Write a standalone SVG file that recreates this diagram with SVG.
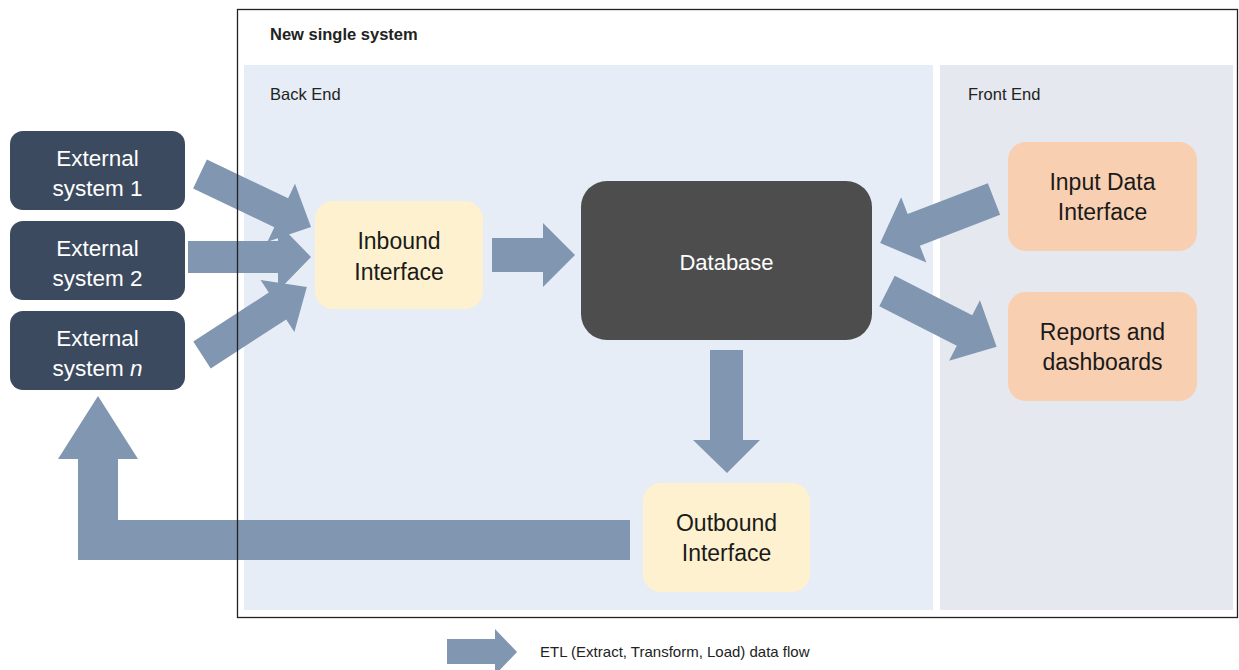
<svg xmlns="http://www.w3.org/2000/svg" width="1239" height="670" viewBox="0 0 1239 670">
<style>
  text { font-family: "Liberation Sans", Arial, sans-serif; }
  .flow { fill: #8196b0; }
  .ext rect { fill: #3c4a5f; }
  .ext text { fill: #ffffff; font-size: 22.5px; text-anchor: middle; }
  .db rect { fill: #4d4d4d; }
  .db text { fill: #ffffff; font-size: 22px; text-anchor: middle; }
  .yel rect { fill: #fdf1cf; }
  .peach rect { fill: #f8cfb1; }
  .dark { fill: #1a1a1a; font-size: 23px; text-anchor: middle; }
  .panel-title { fill: #222; font-size: 16.5px; }
</style>
<rect x="0" y="0" width="1239" height="670" fill="#ffffff"/>

<g id="frame-bg">
  <rect x="244" y="65" width="689" height="545" fill="#e6edf6"/>
  <rect x="940" y="65" width="293" height="545" fill="#e5e8ee"/>
  <text x="270" y="40" class="panel-title" font-size="17" font-weight="bold">New single system</text>
  <text x="270" y="100" class="panel-title">Back End</text>
  <text x="968" y="100" class="panel-title">Front End</text>
</g>

<g id="connectors">
  <!-- ext1 -> inbound -->
  <path class="flow" transform="translate(200,174) rotate(25.5)" d="M0,-16 L90,-16 L90,-32 L123,0 L90,32 L90,16 L0,16 Z"/>
  <!-- ext2 -> inbound -->
  <path class="flow" transform="translate(188,257) rotate(0)" d="M0,-16 L90,-16 L90,-34 L123,0 L90,34 L90,16 L0,16 Z"/>
  <!-- extn -> inbound -->
  <path class="flow" transform="translate(202,355) rotate(-33)" d="M0,-16 L90,-16 L90,-31 L125,0 L90,31 L90,16 L0,16 Z"/>
  <!-- inbound -> database -->
  <path class="flow" transform="translate(492,255)" d="M0,-17 L51,-17 L51,-32 L83,0 L51,32 L51,17 L0,17 Z"/>
  <!-- input data -> database -->
  <path class="flow" transform="translate(994,199) rotate(158.9)" d="M0,-17 L86,-17 L86,-35 L122,0 L86,35 L86,17 L0,17 Z"/>
  <!-- database -> reports -->
  <path class="flow" transform="translate(887,291) rotate(27)" d="M0,-17 L87,-17 L87,-34 L123,0 L87,34 L87,17 L0,17 Z"/>
  <!-- database -> outbound -->
  <path class="flow" d="M710,350 L743,350 L743,440 L760,440 L727,473 L693,440 L710,440 Z"/>
  <!-- outbound -> external system n -->
  <path class="flow" d="M630,520 L118,520 L118,459 L138,459 L98,396 L58,459 L78,459 L78,560 L630,560 Z"/>
</g>

<g id="frame-border">
  <rect x="237.5" y="9.5" width="1000" height="608" fill="none" stroke="#222222" stroke-width="1.3"/>
</g>

<g id="ext1" class="ext">
  <rect x="10" y="131" width="175" height="79" rx="13"/>
  <text x="97.5" y="166">External</text>
  <text x="97.5" y="196">system 1</text>
</g>
<g id="ext2" class="ext">
  <rect x="10" y="221" width="175" height="79" rx="13"/>
  <text x="97.5" y="256">External</text>
  <text x="97.5" y="286">system 2</text>
</g>
<g id="extn" class="ext">
  <rect x="10" y="311" width="175" height="79" rx="13"/>
  <text x="97.5" y="346">External</text>
  <text x="97.5" y="376">system <tspan font-style="italic">n</tspan></text>
</g>

<g id="inbound" class="yel">
  <rect x="315" y="201" width="168" height="108" rx="18"/>
  <text x="399" y="249" class="dark">Inbound</text>
  <text x="399" y="280" class="dark">Interface</text>
</g>

<g id="database" class="db">
  <rect x="581" y="181" width="291" height="159" rx="26"/>
  <text x="726.5" y="270">Database</text>
</g>

<g id="outbound" class="yel">
  <rect x="643" y="483" width="167" height="109" rx="18"/>
  <text x="726.5" y="531" class="dark">Outbound</text>
  <text x="726.5" y="561" class="dark">Interface</text>
</g>

<g id="input-data" class="peach">
  <rect x="1008" y="142" width="189" height="109" rx="18"/>
  <text x="1102.5" y="190" class="dark">Input Data</text>
  <text x="1102.5" y="220" class="dark">Interface</text>
</g>

<g id="reports" class="peach">
  <rect x="1008" y="292" width="189" height="109" rx="18"/>
  <text x="1102.5" y="340" class="dark">Reports and</text>
  <text x="1102.5" y="370" class="dark">dashboards</text>
</g>

<g id="legend">
  <path class="flow" d="M447,639 L495,639 L495,629 L517,652 L495,675 L495,664 L447,664 Z"/>
  <text x="540" y="657" font-size="15" fill="#222">ETL (Extract, Transform, Load) data flow</text>
</g>
</svg>
